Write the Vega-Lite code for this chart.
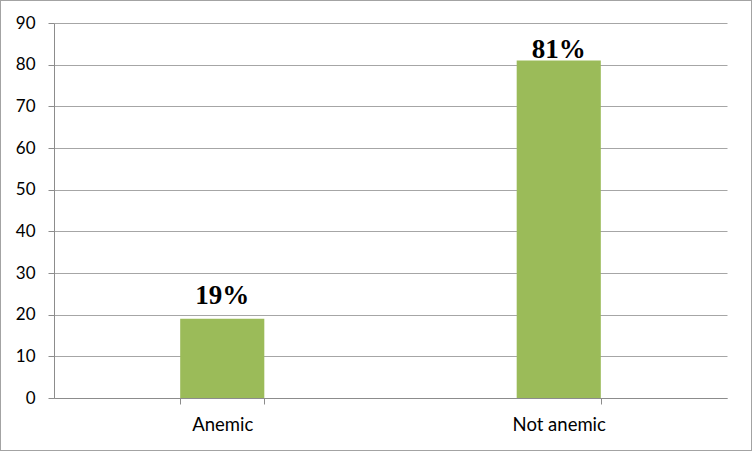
{
  "$schema": "https://vega.github.io/schema/vega-lite/v6.json",
  "width": 752,
  "height": 451,
  "autosize": {"type": "none"},
  "padding": 0,
  "background": "white",
  "config": {
    "view": {"stroke": "#A3A3A3", "strokeWidth": 2},
    "axis": {
      "labelFont": "Lato",
      "labelFontSize": 17,
      "labelColor": "#000000",
      "domainColor": "#8C8C8C",
      "tickColor": "#8C8C8C",
      "gridColor": "#A6A6A6",
      "tickSize": 6,
      "title": null
    }
  },
  "data": {
    "values": [
      {"status": "Anemic", "value": 19, "label": "19%"},
      {"status": "Not anemic", "value": 81, "label": "81%"}
    ]
  },
  "encoding": {
    "x": {
      "field": "status",
      "type": "nominal",
      "sort": null,
      "scale": {"range": [54, 727], "paddingInner": 0.75, "paddingOuter": 0.375},
      "axis": {"labelAngle": 0, "offset": -53, "tickBand": "extent", "labelPadding": 11, "labelFontSize": 18.5, "grid": false}
    },
    "y": {
      "field": "value",
      "type": "quantitative",
      "scale": {"domain": [0, 90], "range": [398, 23], "nice": false},
      "axis": {"values": [0, 10, 20, 30, 40, 50, 60, 70, 80, 90], "offset": -54, "labelPadding": 13, "grid": true}
    }
  },
  "layer": [
    {"mark": {"type": "bar", "color": "#9BBB59"}},
    {
      "transform": [{"filter": "datum.status === 'Anemic'"}],
      "mark": {"type": "text", "font": "Liberation Serif", "fontWeight": "bold", "fontSize": 27, "baseline": "alphabetic", "dy": -15, "color": "#000000"},
      "encoding": {"text": {"field": "label"}}
    },
    {
      "transform": [{"filter": "datum.status === 'Not anemic'"}],
      "mark": {"type": "text", "font": "Liberation Serif", "fontWeight": "bold", "fontSize": 27, "baseline": "alphabetic", "dy": -3, "color": "#000000"},
      "encoding": {"text": {"field": "label"}}
    }
  ]
}
